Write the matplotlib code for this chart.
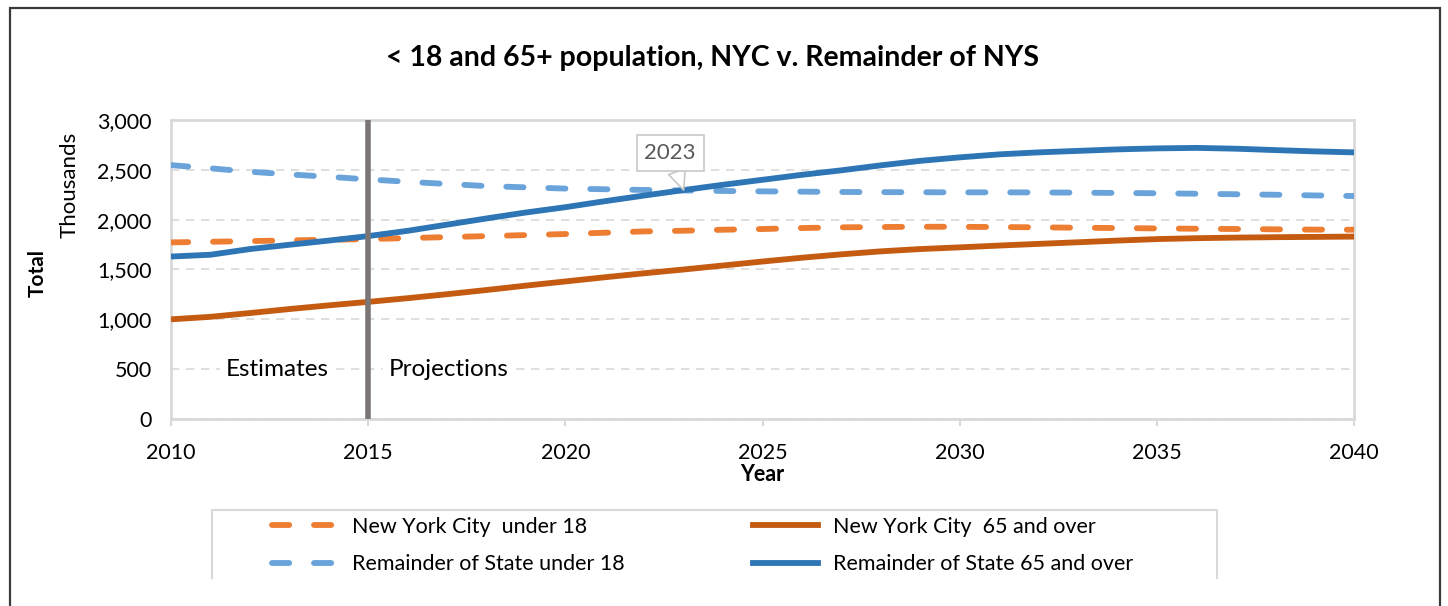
import matplotlib.pyplot as plt
from matplotlib import patches, ticker
from matplotlib.lines import Line2D

plt.rcParams['font.family'] = ['Lato', 'DejaVu Sans']

years = list(range(2010, 2041))

nyc_under18 = [1772, 1778, 1785, 1792, 1798, 1805, 1815, 1825, 1835, 1845,
               1856, 1869, 1882, 1889, 1899, 1906, 1916, 1923, 1926, 1929,
               1928, 1926, 1923, 1919, 1916, 1912, 1909, 1906, 1903, 1900,
               1899]
nyc_65plus = [1000, 1025, 1063, 1103, 1140, 1175, 1212, 1252, 1294, 1338,
              1380, 1422, 1462, 1500, 1540, 1580, 1618, 1652, 1682, 1705,
              1722, 1740, 1757, 1773, 1790, 1805, 1814, 1820, 1824, 1827,
              1830]
rest_under18 = [2547, 2515, 2481, 2454, 2430, 2404, 2380, 2358, 2337, 2324,
                2312, 2305, 2298, 2293, 2288, 2284, 2281, 2278, 2276, 2275,
                2274, 2274, 2273, 2271, 2268, 2265, 2260, 2255, 2250, 2243,
                2237]
rest_65plus = [1630, 1648, 1705, 1748, 1790, 1835, 1888, 1950, 2012, 2072,
               2125, 2185, 2242, 2297, 2350, 2400, 2450, 2495, 2545, 2590,
               2625, 2655, 2675, 2690, 2705, 2715, 2720, 2712, 2698, 2685,
               2675]

series = [
    ('New York City  under 18', nyc_under18, '#ED7D31', True),
    ('New York City  65 and over', nyc_65plus, '#C55A11', False),
    ('Remainder of State under 18', rest_under18, '#69A3D9', True),
    ('Remainder of State 65 and over', rest_65plus, '#2E75B6', False),
]

DASHES = (2.95, 4.25)
LW = 4.2

fig = plt.figure(figsize=(14.48, 6.06), dpi=100)
fig.patch.set_facecolor('white')

# outer frame (bottom edge runs off the picture)
fig.patches.append(patches.Rectangle(
    (0.0069, -0.1), 0.9876, 1.0868, transform=fig.transFigure,
    fill=False, edgecolor='#3a3a3a', linewidth=1.6))

ax = fig.add_axes([0.1181, 0.3086, 0.817, 0.4934])

for label, vals, color, dashed in series:
    if dashed:
        ax.plot(years, vals, color=color, linewidth=LW, dashes=DASHES,
                dash_capstyle='round', label=label, zorder=3)
    else:
        ax.plot(years, vals, color=color, linewidth=LW,
                solid_capstyle='butt', label=label, zorder=4)

ax.axvline(2015, color='#7a7676', linewidth=4, zorder=5)

ax.set_xlim(2010, 2040)
ax.set_ylim(0, 3000)
ax.set_xticks(range(2010, 2041, 5))
ax.set_yticks(range(0, 3001, 500))
ax.yaxis.set_major_formatter(ticker.StrMethodFormatter('{x:,.0f}'))
ax.tick_params(axis='both', labelsize=15.5, colors='black')
ax.tick_params(axis='y', length=0, pad=14)
ax.tick_params(axis='x', length=5, color='#d9d9d9', width=1.5, pad=12)
ax.grid(axis='y', color='#d9d9d9', linestyle=(0, (5, 4)), linewidth=1.2)
ax.set_axisbelow(True)
for side in ['left', 'right', 'top', 'bottom']:
    ax.spines[side].set_color('#d9d9d9')
    ax.spines[side].set_linewidth(2)

ax.text(2012.7, 500, 'Estimates', fontsize=17.5, ha='center', va='center',
        backgroundcolor='white', zorder=2)
ax.text(2017.05, 500, 'Projections', fontsize=17.5, ha='center', va='center',
        backgroundcolor='white', zorder=2)

# 2023 callout
ann_x = 2023
ann_y = rest_65plus[years.index(ann_x)]
ax.annotate('2023', xy=(ann_x, ann_y), xytext=(ann_x - 0.34, ann_y + 370),
            fontsize=16, color='#595959', ha='center', va='center',
            bbox=dict(boxstyle='square,pad=0.35', fc='white', ec='#c8c8c8', lw=1.2),
            arrowprops=dict(arrowstyle='wedge,tail_width=0.8', fc='white',
                            ec='#c8c8c8', lw=1.2, shrinkA=0, shrinkB=0),
            zorder=6)

ax.set_xlabel('Year', fontsize=15.5, fontweight='bold', labelpad=1)
fig.text(0.0484, 0.695, 'Thousands', rotation=90, fontsize=16,
         ha='center', va='center')
fig.text(0.026, 0.55, 'Total', rotation=90, fontsize=15, fontweight='bold',
         ha='center', va='center')

fig.text(0.492, 0.905, '< 18 and 65+ population, NYC v. Remainder of NYS',
         fontsize=20.5, fontweight='bold', ha='center', va='center')

# legend frame: left, top and right sides only
lx0, lx1, ly0, ly1 = 212 / 1448, 1217 / 1448, 1 - 578 / 606, 1 - 510 / 606
fig.add_artist(Line2D([lx0, lx0, lx1, lx1], [ly0, ly1, ly1, ly0],
                      transform=fig.transFigure, color='#d9d9d9',
                      linewidth=1.5))

order = [0, 2, 1, 3]  # legend fills by column
leg_handles = [Line2D([], [], color=series[i][2], linewidth=LW,
                      dashes=DASHES if series[i][3] else (None, None),
                      dash_capstyle='round') for i in order]
fig.legend(leg_handles, [series[i][0] for i in order], ncol=2,
           loc='upper left', bbox_to_anchor=(272 / 1448, 1 - 517 / 606),
           fontsize=15.5, frameon=False, borderpad=0, borderaxespad=0,
           handlelength=3.0, handletextpad=0.7, labelspacing=0.8,
           columnspacing=6.0)

fig.savefig('out.png', dpi=100)
